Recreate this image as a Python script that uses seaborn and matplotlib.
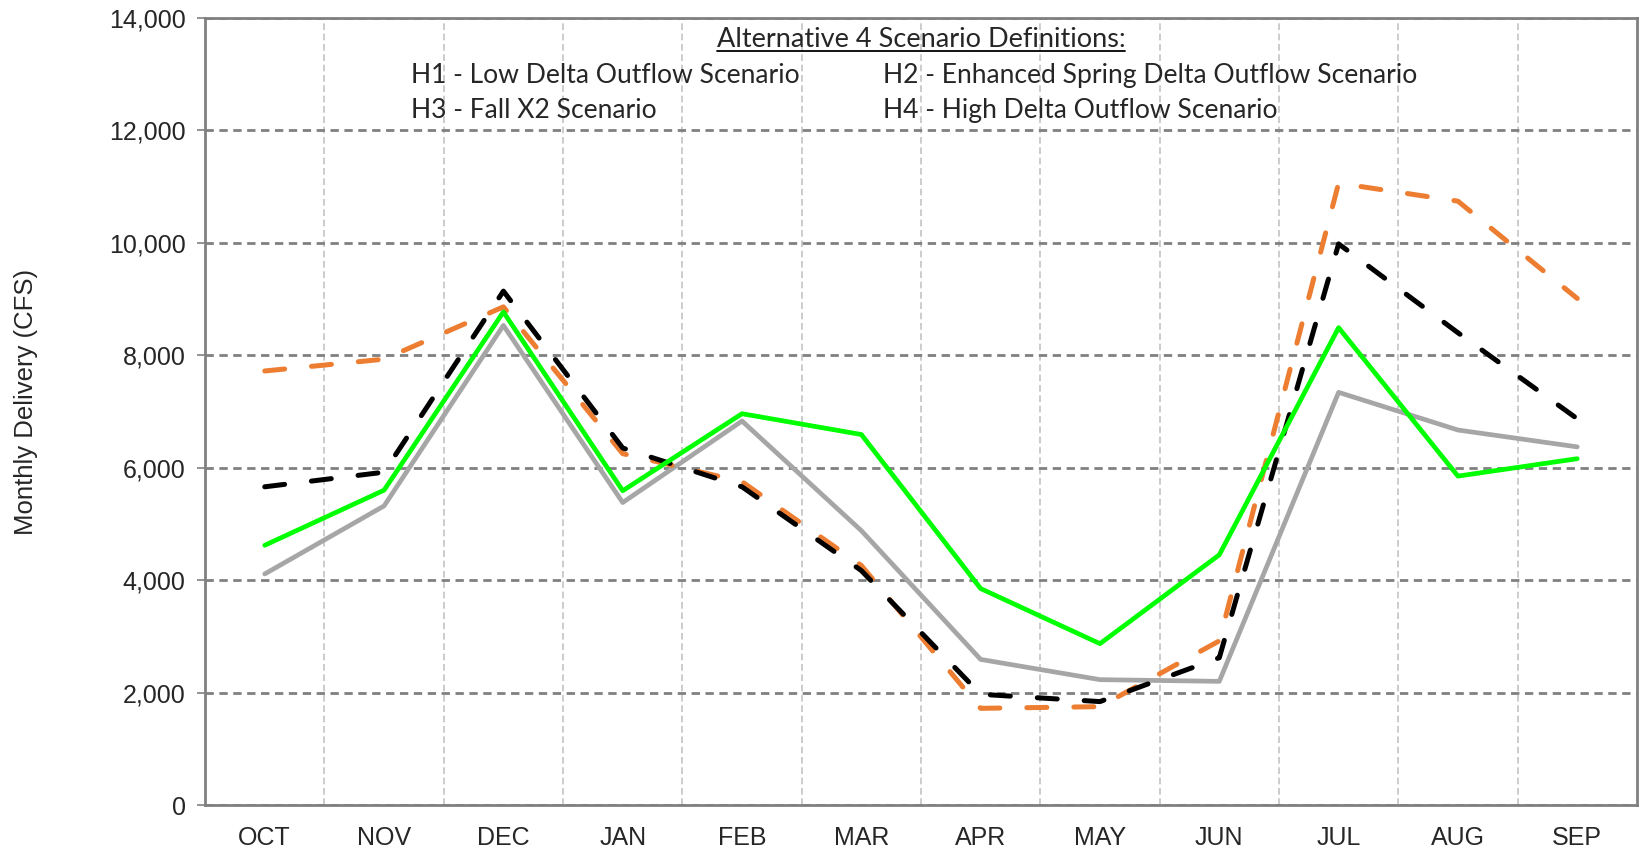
import numpy as np
import pandas as pd
import seaborn as sns
import matplotlib.pyplot as plt
from matplotlib.ticker import FuncFormatter, MultipleLocator

months = ["OCT", "NOV", "DEC", "JAN", "FEB", "MAR", "APR", "MAY", "JUN", "JUL", "AUG", "SEP"]

# monthly delivery (cfs)
h_orange = [7720, 7930, 8860, 6250, 5750, 4260, 1720, 1750, 2920, 11060, 10740, 9010]
h_black = [5660, 5920, 9140, 6350, 5660, 4170, 1970, 1840, 2620, 9980, 8400, 6870]
h_green = [4620, 5600, 8770, 5590, 6960, 6590, 3850, 2870, 4450, 8490, 5850, 6160]
h_gray = [4110, 5320, 8530, 5380, 6830, 4880, 2590, 2230, 2200, 7340, 6670, 6370]

def_title = "Alternative 4 Scenario Definitions:"
def_lines = [
    "H1 - Low Delta Outflow Scenario",
    "H2 - Enhanced Spring Delta Outflow Scenario",
    "H3 - Fall X2 Scenario",
    "H4 - High Delta Outflow Scenario",
]

sns.set_theme(style="white")
plt.rcParams["font.family"] = ["Liberation Sans", "DejaVu Sans"]

fig = plt.figure(figsize=(16.42, 8.51), dpi=100)
ax = fig.add_axes([0.1249, 0.054, 0.872, 0.925])

x = np.arange(len(months))
df = pd.DataFrame({"x": x, "orange": h_orange, "black": h_black,
                   "green": h_green, "gray": h_gray})

dash = (0, (4.0, 5.4))
sns.lineplot(data=df, x="x", y="gray", ax=ax, color="#a6a6a6", lw=3.4)
sns.lineplot(data=df, x="x", y="orange", ax=ax, color="#ed7d31", lw=3.6,
             linestyle=dash, dash_capstyle="round")
sns.lineplot(data=df, x="x", y="black", ax=ax, color="black", lw=3.6,
             linestyle=dash, dash_capstyle="round")
sns.lineplot(data=df, x="x", y="green", ax=ax, color="#00ff00", lw=3.4)

ax.set_xlim(-0.5, len(months) - 0.5)
ax.set_ylim(0, 14000)
ax.yaxis.set_major_locator(MultipleLocator(2000))
ax.yaxis.set_major_formatter(FuncFormatter(lambda v, p: f"{int(v):,}"))
ax.set_xticks(x)
ax.set_xticklabels(months)
ax.set_xticks(np.arange(0.5, len(months) - 1, 1), minor=True)

ax.grid(False)
ax.grid(axis="y", which="major", color="#808080", linestyle=(0, (3, 2)), lw=2)
ax.grid(axis="x", which="minor", color="#c4c4c4", linestyle=(0, (4, 2.2)), lw=1.2)

for s in ax.spines.values():
    s.set_color("#808080")
    s.set_linewidth(2)

ax.tick_params(axis="y", which="major", left=True, length=6, width=1.2,
               color="#808080", labelsize=18, pad=8)
ax.tick_params(axis="x", which="both", bottom=False, labelsize=18, pad=9)

ax.set_xlabel("")
ax.set_ylabel("Monthly Delivery (CFS)", fontsize=18.5)
ax.yaxis.set_label_coords(-0.117, 0.512)

tf = ["Lato", "DejaVu Sans"]
title = ax.text(0.5, 0.973, def_title, transform=ax.transAxes, ha="center",
                va="center", fontsize=19.5, family=tf)
# underline for title
fig.canvas.draw()
bb = title.get_window_extent().transformed(ax.transAxes.inverted())
ax.plot([bb.x0, bb.x1], [bb.y0 + 0.001, bb.y0 + 0.001], transform=ax.transAxes,
        color="black", lw=1.3)

cols = [0.1435, 0.4735]
rows = [0.927, 0.882]
for i, txt in enumerate(def_lines):
    ax.text(cols[i % 2], rows[i // 2], txt, transform=ax.transAxes,
            ha="left", va="center", fontsize=19.1, family=tf)

fig.savefig("out.png", dpi=100)
